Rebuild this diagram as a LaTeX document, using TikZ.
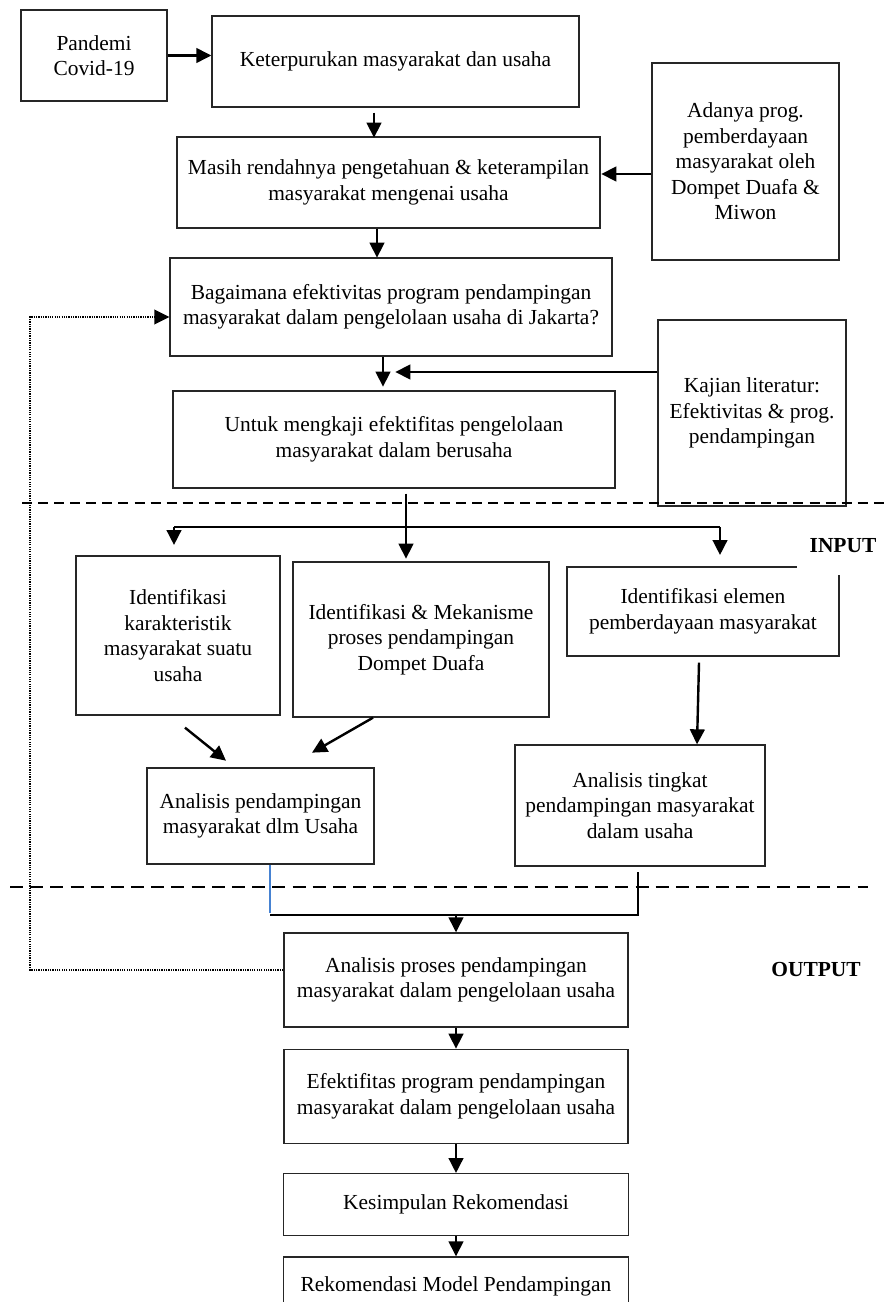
\documentclass[tikz,border=0pt]{standalone}
\usepackage{fontspec}
\setmainfont{Liberation Serif}
\usetikzlibrary{arrows.meta,positioning}
\definecolor{joinblue}{RGB}{70,130,210}
\newlength\pxu
\setlength\pxu{0.56pt}

\begin{document}
\begin{tikzpicture}[x=0.56pt,y=-0.56pt]
	\tikzset{
		box/.style = {draw=black!85, line width=0.75pt, align=center, inner sep=0pt,
			font=\fontsize{12}{14.3}\selectfont},
		sz/.style 2 args = {minimum width=#1\pxu, minimum height=#2\pxu},
		arr/.style = {line width=1.35pt, -{Triangle[length=8.4pt,width=8.2pt]}},
		lbl/.style = {inner sep=0pt, font=\fontsize{12}{14.3}\selectfont\bfseries},
		sep/.style = {line width=0.75pt, dash pattern=on 5.6pt off 3.4pt},
		sepb/.style = {line width=0.85pt, dash pattern=on 7.3pt off 4pt},
		back/.style = {line width=1.1pt, dash pattern=on 0.7pt off 0.6pt}
	}
	\useasboundingbox (0,0) rectangle (886,1302);

	\node[box, sz={146}{91}] (pandemi) at (94,55.5) {Pandemi\\Covid-19};
	\node[box, sz={367}{91}] (keter) at (395.5,61.5) {Keterpurukan masyarakat dan usaha};
	\node[box, sz={423}{91}] (masih) at (388.5,182.5) {Masih rendahnya pengetahuan \& keterampilan\\masyarakat mengenai usaha};
	\node[box, sz={187}{197}] (adanya) at (745.5,161.5) {Adanya prog.\\pemberdayaan\\masyarakat oleh\\Dompet Duafa \&\\Miwon};
	\node[box, sz={442}{98}] (bagai) at (391,307) {Bagaimana efektivitas program pendampingan\\masyarakat dalam pengelolaan usaha di Jakarta?};
	\node[box, sz={188}{186}] (kajian) at (752,413) {Kajian literatur:\\Efektivitas \& prog.\\pendampingan};
	\node[box, sz={442}{97}] (untuk) at (394,439.5) {Untuk mengkaji efektifitas pengelolaan\\masyarakat dalam berusaha};
	\node[box, sz={204}{159}] (idkar) at (178,635.5) {Identifikasi\\karakteristik\\masyarakat suatu\\usaha};
	\node[box, sz={256}{155}] (idmek) at (421,639.5) {Identifikasi \& Mekanisme\\proses pendampingan\\Dompet Duafa};
	\node[box, sz={272}{89}] (idel) at (703,611.5) {Identifikasi elemen\\pemberdayaan masyarakat};
	\node[lbl, fill=white, sz={92}{58}] (input) at (843,546) {INPUT};
	\node[box, sz={250}{121}] (antk) at (640,805.5) {Analisis tingkat\\pendampingan masyarakat\\dalam usaha};
	\node[box, sz={227}{96}] (anpd) at (260.5,816) {Analisis pendampingan\\masyarakat dlm Usaha};
	\node[box, sz={344}{94}] (anpr) at (456,980) {Analisis proses pendampingan\\masyarakat dalam pengelolaan usaha};
	\node[lbl] (output) at (816,969) {OUTPUT};
	\node[box, sz={344}{94}, below=21\pxu of anpr] (efek) {Efektifitas program pendampingan\\masyarakat dalam pengelolaan usaha};
	\node[box, sz={345}{62}, below=29\pxu of efek] (kesim) {Kesimpulan Rekomendasi};
	\node[box, sz={345}{58}, below=20\pxu of kesim] (rekom) {Rekomendasi Model Pendampingan};

	\coordinate (bl) at (174,527);
	\coordinate (br) at (720,527);
	\coordinate (jl) at (270,915);
	\coordinate (jr) at (638,915);
	\coordinate (jm) at (456,915);
	\coordinate (fb) at (30,317);

	\draw[sep] (22,503) -- (886,503);
	\draw[sepb] (10,887) -- (868,887);

	\draw[arr] (pandemi.east) -- (pandemi.east -| keter.west);
	\draw[arr] ([xshift=-21.5\pxu,yshift=-5\pxu]keter.south) -- ++(0,25);
	\draw[arr] ([yshift=-12.5\pxu]adanya.west) -- ++(-50,0);
	\draw[arr] ([xshift=-11.5\pxu]masih.south) -- ++(0,29);
	\draw[arr] ([xshift=-8\pxu]bagai.south) -- ++(0,30);
	\draw[arr] ([yshift=41\pxu]kajian.west) -- ++(-262,0);
	\draw[arr] ([xshift=12\pxu,yshift=-5\pxu]untuk.south) -- ++(0,65);
	\draw[line width=1.35pt] (bl) -- (br);
	\draw[arr] (bl) -- ++(0,18);
	\draw[arr] (br) -- ++(0,28);
	\draw[arr] ([xshift=-4\pxu,yshift=-6\pxu]idel.south) -- ([xshift=57\pxu]antk.north);
	\draw[arr] ([xshift=7\pxu,yshift=-12\pxu]idkar.south) -- ++(41,33);
	\draw[arr] ([xshift=-48\pxu]idmek.south) -- ++(-61,35);
	\draw[joinblue, line width=0.6pt] ([xshift=9.5\pxu]anpd.south) -- ++(0,48);
	\draw[line width=1.35pt] (jl) -- (jr) -- ([yshift=-5\pxu]jr |- antk.south);
	\draw[arr] (jm) -- (anpr.north);
	\draw[arr] (anpr.south) -- (efek.north);
	\draw[arr] (efek.south) -- (kesim.north);
	\draw[arr] (kesim.south) -- (rekom.north);
	\draw[back, -{Triangle[length=8.4pt,width=8.2pt]}] ([yshift=10\pxu]anpr.west) -| (fb) -- ([yshift=-10\pxu]bagai.west);
\end{tikzpicture}
\end{document}
